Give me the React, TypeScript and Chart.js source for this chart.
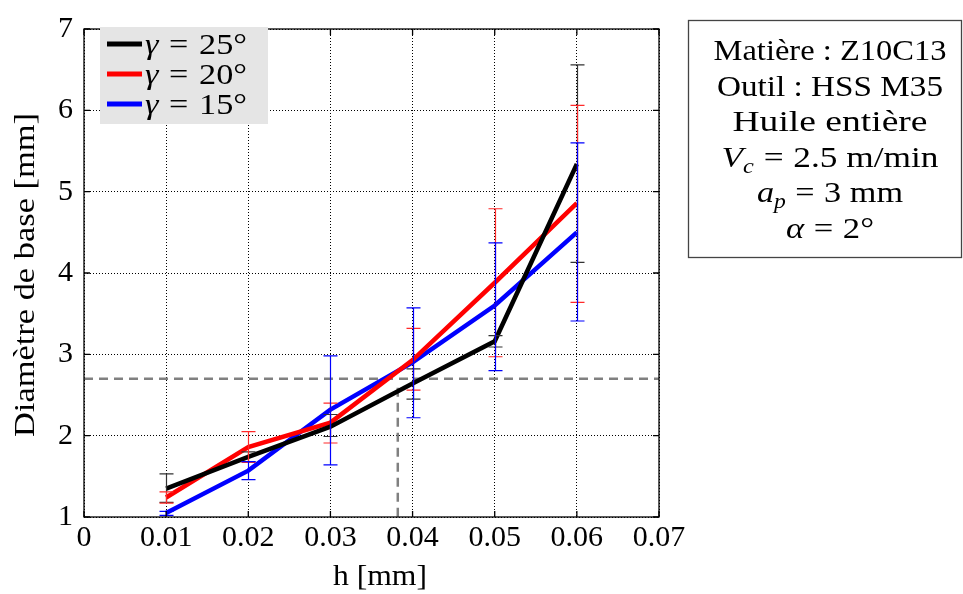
import React, { useEffect, useRef } from "react";
import { Chart, registerables } from "chart.js";

Chart.register(...registerables);

const hValues = [0.01, 0.02, 0.03, 0.04, 0.05, 0.06];
const d25 = [1.35, 1.74, 2.11, 2.64, 3.16, 5.34];
const d20 = [1.24, 1.86, 2.16, 2.93, 3.88, 4.86];
const d15 = [1.05, 1.57, 2.32, 2.9, 3.6, 4.5];
const err25Low = [1.18, 1.68, 1.99, 2.45, 3.09, 4.13];
const err25High = [1.53, 1.8, 2.26, 2.82, 3.23, 6.56];
const err20Low = [1.17, 1.67, 1.91, 2.56, 2.97, 3.64];
const err20High = [1.31, 2.05, 2.4, 3.32, 4.79, 6.06];
const err15Low = [1.02, 1.46, 1.64, 2.22, 2.8, 3.41];
const err15High = [1.07, 1.68, 2.98, 3.57, 4.37, 5.6];
const seriesNames = ["25°", "20°", "15°"];
const xTicks = [0, 0.01, 0.02, 0.03, 0.04, 0.05, 0.06, 0.07];
const xTickLabels = ["0", "0.01", "0.02", "0.03", "0.04", "0.05", "0.06", "0.07"];
const yTicks = [1, 2, 3, 4, 5, 6, 7];
const yTickLabels = ["1", "2", "3", "4", "5", "6", "7"];
const refY = 2.7;
const refX = 0.0382;
const xTitle = "h [mm]";
const yTitle = "Diamètre de base [mm]";

const FONT = '"Liberation Serif", "DejaVu Serif", serif';

type Part = { t: string; it?: boolean; sub?: boolean; gl?: number; gr?: number };

function partFont(p: Part, size: number) {
  const s = p.sub ? Math.round(size * 0.7) : size;
  return `${p.it ? "italic " : ""}${s}px ${FONT}`;
}

function measureParts(ctx: CanvasRenderingContext2D, parts: Part[], size: number) {
  let w = 0;
  for (const p of parts) {
    ctx.font = partFont(p, size);
    w += (p.gl || 0) + ctx.measureText(p.t).width + (p.gr || 0);
  }
  return w;
}

function drawParts(ctx: CanvasRenderingContext2D, parts: Part[], x: number, y: number, size: number) {
  let cx = x;
  ctx.textAlign = "left";
  ctx.textBaseline = "alphabetic";
  for (const p of parts) {
    ctx.font = partFont(p, size);
    cx += p.gl || 0;
    ctx.fillText(p.t, cx, p.sub ? y + size * 0.2 : y);
    cx += ctx.measureText(p.t).width + (p.gr || 0);
  }
}

// draw parts stretched horizontally to a target width, starting at left x
function drawFitted(ctx: CanvasRenderingContext2D, parts: Part[], left: number, y: number, size: number, target: number) {
  const w = measureParts(ctx, parts, size);
  const sx = target / w;
  ctx.save();
  ctx.translate(left, y);
  ctx.scale(sx, 1);
  drawParts(ctx, parts, 0, 0, size);
  ctx.restore();
}

const colors = ["#000000", "#ff0000", "#0000ff"];
const errColors = ["#333333", "#ff2a2a", "#0000ff"];

const overlay = {
  id: "overlay",
  beforeDatasetsDraw(chart: any) {
    const ctx: CanvasRenderingContext2D = chart.ctx;
    const xs = chart.scales.x;
    const ys = chart.scales.y;
    ctx.save();
    ctx.strokeStyle = "#808080";
    ctx.lineWidth = 2.5;
    ctx.setLineDash([9, 6]);
    ctx.beginPath();
    ctx.moveTo(xs.getPixelForValue(0), ys.getPixelForValue(refY));
    ctx.lineTo(xs.getPixelForValue(0.07), ys.getPixelForValue(refY));
    ctx.stroke();
    ctx.beginPath();
    ctx.moveTo(xs.getPixelForValue(refX), ys.getPixelForValue(refY) + 9);
    ctx.lineTo(xs.getPixelForValue(refX), ys.getPixelForValue(1));
    ctx.stroke();
    ctx.restore();
  },
  afterDatasetsDraw(chart: any) {
    const ctx: CanvasRenderingContext2D = chart.ctx;
    const xs = chart.scales.x;
    const ys = chart.scales.y;
    const area = chart.chartArea;
    ctx.save();
    // error bars
    const lows = [err25Low, err20Low, err15Low];
    const highs = [err25High, err20High, err15High];
    for (let s = 0; s < 3; s++) {
      ctx.strokeStyle = errColors[s];
      ctx.lineWidth = 1.2;
      for (let i = 0; i < hValues.length; i++) {
        const px = Math.round(xs.getPixelForValue(hValues[i])) + 0.5;
        const yl = ys.getPixelForValue(lows[s][i]);
        const yh = ys.getPixelForValue(highs[s][i]);
        ctx.beginPath();
        ctx.moveTo(px, yl);
        ctx.lineTo(px, yh);
        ctx.moveTo(px - 7, yl);
        ctx.lineTo(px + 7, yl);
        ctx.moveTo(px - 7, yh);
        ctx.lineTo(px + 7, yh);
        ctx.stroke();
      }
    }
    // frame
    ctx.strokeStyle = "#000";
    ctx.lineWidth = 1.3;
    ctx.strokeRect(area.left, area.top, area.right - area.left, area.bottom - area.top);
    ctx.beginPath();
    for (const v of xTicks) {
      const px = xs.getPixelForValue(v);
      ctx.moveTo(px, area.bottom);
      ctx.lineTo(px, area.bottom - 6);
      ctx.moveTo(px, area.top);
      ctx.lineTo(px, area.top + 6);
    }
    for (const v of yTicks) {
      const py = ys.getPixelForValue(v);
      ctx.moveTo(area.left, py);
      ctx.lineTo(area.left + 6, py);
      ctx.moveTo(area.right, py);
      ctx.lineTo(area.right - 6, py);
    }
    ctx.stroke();

    // legend
    const lx = 100, ly = 27, lw = 168, lh = 97;
    ctx.fillStyle = "#e5e5e5";
    ctx.fillRect(lx, ly, lw, lh);
    const rows = [44, 74, 104];
    for (let s = 0; s < 3; s++) {
      ctx.strokeStyle = colors[s];
      ctx.lineWidth = 5;
      ctx.beginPath();
      ctx.moveTo(107, rows[s]);
      ctx.lineTo(142, rows[s]);
      ctx.stroke();
      ctx.fillStyle = "#000";
      drawFitted(
        ctx,
        [{ t: "γ", it: true }, { t: "=", gl: 9, gr: 9 }, { t: seriesNames[s] }],
        145,
        rows[s] + 10,
        29,
        102
      );
    }

    // text box
    const bx = 688, by = 20, bw = 274, bh = 238;
    ctx.fillStyle = "#fff";
    ctx.fillRect(bx, by, bw, bh);
    ctx.strokeStyle = "#444";
    ctx.lineWidth = 1.3;
    ctx.strokeRect(bx + 0.5, by + 0.5, bw - 1, bh - 1);
    const lines: Part[][] = [
      [{ t: "Matière : Z10C13" }],
      [{ t: "Outil : HSS M35" }],
      [{ t: "Huile entière" }],
      [{ t: "V", it: true }, { t: "c", it: true, sub: true }, { t: "=", gl: 8, gr: 8 }, { t: "2.5 m/min" }],
      [{ t: "a", it: true }, { t: "p", it: true, sub: true }, { t: "=", gl: 8, gr: 8 }, { t: "3 mm" }],
      [{ t: "α", it: true }, { t: "=", gl: 8, gr: 8 }, { t: "2°" }],
    ];
    const widths = [233, 226, 195, 217, 146, 88];
    const cx = 830;
    ctx.fillStyle = "#000";
    for (let i = 0; i < lines.length; i++) {
      drawFitted(ctx, lines[i], cx - widths[i] / 2, 60 + i * 35.6, 29, widths[i]);
    }

    // axis titles
    ctx.fillStyle = "#000";
    drawFitted(ctx, [{ t: xTitle }], 380 - 47, 585, 29, 94);
    ctx.save();
    ctx.translate(34, 275);
    ctx.rotate(-Math.PI / 2);
    drawFitted(ctx, [{ t: yTitle }], -162, 0, 29, 324);
    ctx.restore();
    ctx.restore();
  },
};

export default function App() {
  const ref = useRef<HTMLCanvasElement | null>(null);
  useEffect(() => {
    if (!ref.current) return;
    const mk = (vals: number[]) => hValues.map((h, i) => ({ x: h, y: vals[i] }));
    const chart = new Chart(ref.current, {
      type: "line",
      data: {
        datasets: [
          { label: "γ = 25°", data: mk(d25), borderColor: colors[0], borderWidth: 4.5, pointRadius: 0, tension: 0 },
          { label: "γ = 20°", data: mk(d20), borderColor: colors[1], borderWidth: 4.5, pointRadius: 0, tension: 0 },
          { label: "γ = 15°", data: mk(d15), borderColor: colors[2], borderWidth: 4.5, pointRadius: 0, tension: 0 },
        ],
      },
      options: {
        responsive: false,
        animation: false,
        layout: { padding: { left: 0, top: 20, right: 304, bottom: 0 } },
        plugins: { legend: { display: false }, tooltip: { enabled: false } },
        scales: {
          x: {
            type: "linear",
            min: 0,
            max: 0.07,
            afterBuildTicks: (s: any) => {
              s.ticks = xTicks.map((v) => ({ value: v }));
            },
            afterFit: (s: any) => {
              s.height = 77;
            },
            ticks: {
              callback: (_v: any, i: number) => xTickLabels[i],
              color: "#000",
              font: { family: FONT, size: 30 },
              padding: 3,
              maxRotation: 0,
              autoSkip: false,
            },
            grid: { color: "#000", lineWidth: 1, drawTicks: false },
            border: { display: false, dash: [1, 2] },
          },
          y: {
            type: "linear",
            min: 1,
            max: 7,
            afterBuildTicks: (s: any) => {
              s.ticks = yTicks.map((v) => ({ value: v }));
            },
            afterFit: (s: any) => {
              s.width = 84;
            },
            ticks: {
              callback: (_v: any, i: number) => yTickLabels[i],
              color: "#000",
              font: { family: FONT, size: 30 },
              padding: 11,
              autoSkip: false,
            },
            grid: { color: "#000", lineWidth: 1, drawTicks: false },
            border: { display: false, dash: [1, 2] },
          },
        },
      },
      plugins: [overlay],
    });
    return () => chart.destroy();
  }, []);
  return (
    <div style={{ position: "absolute", left: 0, top: 0, width: 963, height: 594, background: "#fff" }}>
      <canvas ref={ref} width={963} height={594} style={{ display: "block" }} />
    </div>
  );
}
